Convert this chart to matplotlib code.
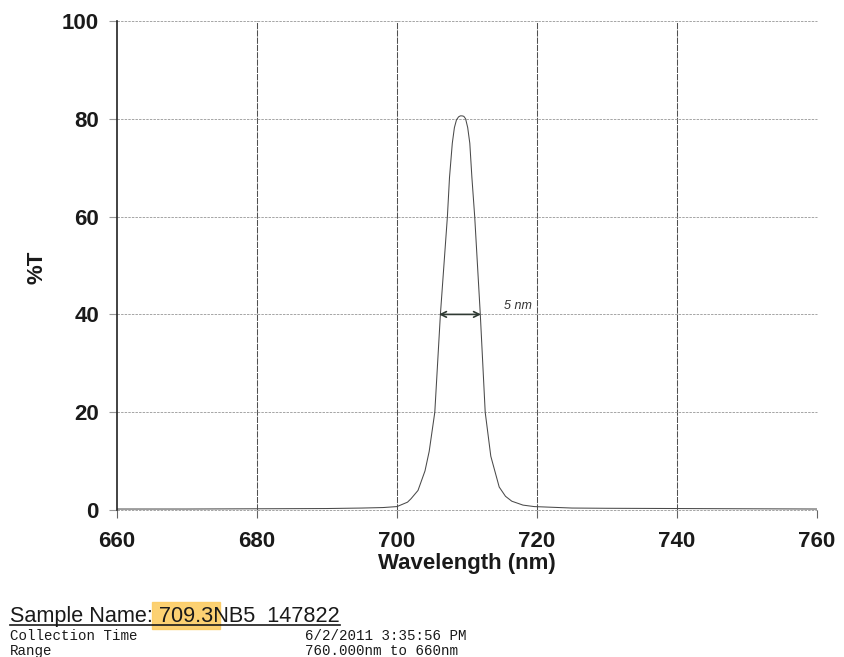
#!/usr/bin/env python3
"""Transmission scan of the 709.3NB5 narrow-band filter (%T vs wavelength)."""
import matplotlib

matplotlib.use("Agg")
import matplotlib.pyplot as plt
from matplotlib.lines import Line2D
from matplotlib.patches import Rectangle

plt.rcParams["font.family"] = ["Liberation Sans", "DejaVu Sans"]

# values
WAVELENGTH_NM = [660, 670, 680, 690, 695, 698, 700, 701.5, 702, 703, 704,
                 704.6, 705.4, 706.2, 707.2, 707.5, 707.9, 708.2, 708.5,
                 708.8, 709.05, 709.3, 709.55, 709.8, 710.1, 710.4, 710.7,
                 711.1, 711.9, 712.6, 713.4, 714.6, 715.5, 716.4, 718, 719.6,
                 725, 730, 740, 750, 760]
TRANSMISSION = [0.2, 0.2, 0.25, 0.3, 0.4, 0.5, 0.7, 1.6, 2.3, 4.0, 8.0,
                12.0, 20.0, 40.0, 60.0, 68.0, 75.0, 78.2, 79.8,
                80.4, 80.6, 80.6, 80.5, 80.0, 78.2, 75.0, 68.0,
                60.0, 40.0, 20.0, 11.0, 4.7, 2.8, 1.8, 1.0, 0.7,
                0.4, 0.35, 0.3, 0.25, 0.2]
X_TICKS = [660, 680, 700, 720, 740, 760]
Y_TICKS = [0, 20, 40, 60, 80, 100]
FWHM_ENDS = (706.0, 712.0)
FWHM_LEVEL = 40

SAMPLE = "Sample Name: 709.3NB5  147822"
INFO_KEYS = ["Collection Time", "Range"]
INFO_VALS = ["6/2/2011 3:35:56 PM", "760.000nm to 660nm"]

INK = "#1a1a1a"
W, H = 845, 657

fig = plt.figure(figsize=(W / 100, H / 100), dpi=100)
ax = fig.add_axes([117 / W, 1 - 510 / H, 700 / W, 489 / H])

ax.plot(WAVELENGTH_NM, TRANSMISSION, color="#4a4a4a", lw=0.75,
        solid_joinstyle="round")
ax.set_xlim(X_TICKS[0], X_TICKS[-1])
ax.set_ylim(Y_TICKS[0], Y_TICKS[-1])
ax.set_xticks(X_TICKS)
ax.set_yticks(Y_TICKS)

# grid: darker vertical lines, lighter horizontal ones
for x in X_TICKS[1:-1]:
    ax.axvline(x, color="#505050", lw=0.75, ls=(0, (6, 1)), zorder=0)
for y in Y_TICKS:
    ax.axhline(y, color="#a5a5a5", lw=0.7, ls=(0, (2.5, 1.2)), zorder=0,
               clip_on=False)

for side in ("top", "right", "bottom"):
    ax.spines[side].set_visible(False)
ax.spines["left"].set_color("#222222")
ax.spines["left"].set_linewidth(1.2)

ax.tick_params(axis="x", length=6, width=0.8, color="#666666", pad=9,
               labelsize=16, labelcolor=INK)
ax.tick_params(axis="y", length=6, width=0.8, color="#999999", pad=7,
               labelsize=16, labelcolor=INK)
for lab in ax.get_xticklabels() + ax.get_yticklabels():
    lab.set_fontweight("bold")

ax.set_xlabel("Wavelength (nm)", fontsize=16, fontweight="bold", color=INK,
              labelpad=1)
fig.text(37 / W, 1 - 267 / H, "%T", rotation=90, ha="center", va="center",
         fontsize=16, fontweight="bold", color=INK)

# hand-drawn FWHM marker
ax.annotate("", xy=(FWHM_ENDS[0], FWHM_LEVEL), xytext=(FWHM_ENDS[1], FWHM_LEVEL),
            arrowprops=dict(arrowstyle="<->", color="#2f3a33", lw=1.2,
                            shrinkA=0, shrinkB=0))
ax.text(715.3, FWHM_LEVEL + 0.5, "5 nm", fontsize=9, style="italic",
        color="#333333", ha="left", va="bottom")

# sample header, highlighted and underlined like the printout
fig.patches.append(Rectangle((152 / W, 1 - 629 / H), 68 / W, 27 / H,
                             transform=fig.transFigure, color="#fccc63",
                             alpha=0.9, zorder=0))
t = fig.text(10 / W, 1 - 622 / H, SAMPLE, fontsize=15.6, color=INK,
             ha="left", va="baseline")
fig.canvas.draw()
bb = t.get_window_extent().transformed(fig.transFigure.inverted())
uy = 1 - 624.5 / H
fig.add_artist(Line2D([bb.x0, bb.x1], [uy, uy], transform=fig.transFigure,
                      color=INK, lw=1.2))

for i, (k, v) in enumerate(zip(INFO_KEYS, INFO_VALS)):
    y = 1 - (640 + 15 * i) / H
    fig.text(10 / W, y, k, family="Liberation Mono", fontsize=10.2,
             color=INK, va="baseline")
    fig.text(305 / W, y, v, family="Liberation Mono", fontsize=10.2,
             color=INK, va="baseline")

fig.savefig("out.png", dpi=100, facecolor="white")
